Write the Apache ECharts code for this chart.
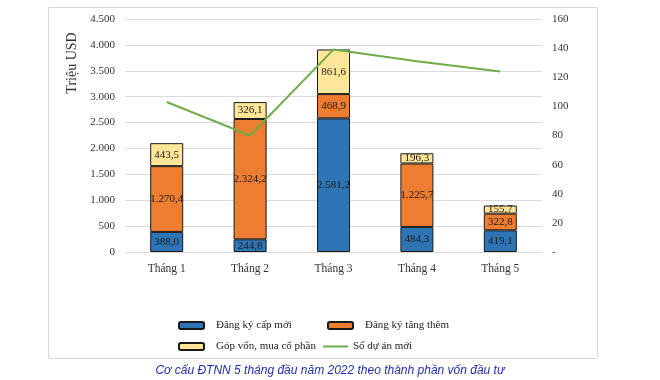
<!DOCTYPE html>
<html><head><meta charset="utf-8">
<script src="https://cdn.jsdelivr.net/npm/echarts@6/dist/echarts.min.js"></script>
<style>html,body{margin:0;padding:0;background:#fff}#c{width:660px;height:380px}</style>
</head><body><div id="c"></div>
<script>
var categories = ['Tháng 1', 'Tháng 2', 'Tháng 3', 'Tháng 4', 'Tháng 5'];
var dangKyCapMoi = [388.0, 244.8, 2581.2, 484.3, 419.1];
var dangKyTangThem = [1270.4, 2324.2, 468.9, 1225.7, 322.8];
var gopVon = [443.5, 326.1, 861.6, 196.3, 155.7];
var soDuAnMoi = [103, 80, 139, 131, 124];
var leftTicks = [0, 500, 1000, 1500, 2000, 2500, 3000, 3500, 4000, 4500];
var rightTicks = [0, 20, 40, 60, 80, 100, 120, 140, 160];
var names = ['Đăng ký cấp mới', 'Đăng ký tăng thêm', 'Góp vốn, mua cổ phần', 'Số dự án mới'];
var caption = 'Cơ cấu ĐTNN 5 tháng đầu năm 2022 theo thành phần vốn đầu tư';

function fmtThousands(n) {
  return String(n).replace(/\B(?=(\d{3})+(?!\d))/g, '.');
}
function fmtVal(v) {
  var s = v.toFixed(1).split('.');
  return fmtThousands(s[0]) + ',' + s[1];
}
var serif = 'Liberation Serif';
var chart = echarts.init(document.getElementById('c'));
function barSeries(name, data, color) {
  return {
    name: name, type: 'bar', stack: 'v', data: data, barWidth: 33,
    itemStyle: { color: color, borderColor: '#1a1a1a', borderWidth: 1 },
    label: { show: true, position: 'inside', fontFamily: serif, fontSize: 11, color: '#1a1a1a',
      formatter: function (p) { return fmtVal(p.value); } },
    emphasis: { disabled: true }
  };
}
function leg(name, left, top, icon, extra) {
  return Object.assign({
    data: [name], left: left, top: top, icon: icon, itemWidth: 25, itemHeight: 7,
    itemGap: 0, textStyle: { fontFamily: serif, fontSize: 11, color: '#222', padding: [0, 0, 0, 7] }
  }, extra || {});
}
chart.setOption({
  animation: false,
  grid: { left: 125, right: 118, top: 19, bottom: 128 },
  legend: [
    leg(names[0], 173, 315, 'roundRect'),
    leg(names[1], 322, 315, 'roundRect'),
    leg(names[2], 173, 336, 'roundRect'),
    leg(names[3], 318, 336, 'rect', { itemHeight: 2, itemWidth: 25,
      textStyle: { fontFamily: serif, fontSize: 11, color: '#222' } })
  ],
  xAxis: {
    type: 'category', data: categories,
    axisLine: { lineStyle: { color: '#d9d9d9' } },
    axisTick: { show: false },
    axisLabel: { fontFamily: serif, fontSize: 11.5, color: '#333', margin: 11 }
  },
  yAxis: [
    { type: 'value', min: leftTicks[0], max: leftTicks[leftTicks.length - 1], interval: 500,
      axisLine: { show: false }, axisTick: { show: false },
      splitLine: { lineStyle: { color: '#dcdcdc' } },
      axisLabel: { fontFamily: serif, fontSize: 11, color: '#333', margin: 10,
        formatter: function (v) { return fmtThousands(v); } } },
    { type: 'value', min: rightTicks[0], max: rightTicks[rightTicks.length - 1], interval: 20,
      axisLine: { show: false }, axisTick: { show: false }, splitLine: { show: false },
      axisLabel: { fontFamily: serif, fontSize: 11, color: '#333', margin: 10,
        formatter: function (v) { return v === 0 ? '-' : String(v); } } }
  ],
  series: [
    barSeries(names[0], dangKyCapMoi, '#2e75b6'),
    barSeries(names[1], dangKyTangThem, '#ed7d31'),
    barSeries(names[2], gopVon, '#ffe699'),
    { name: names[3], type: 'line', yAxisIndex: 1, data: soDuAnMoi, symbol: 'none',
      lineStyle: { color: '#70ad47', width: 2 }, itemStyle: { color: '#70ad47' }, z: 5 }
  ],
  graphic: [
    { type: 'rect', shape: { x: 48.5, y: 7.5, width: 549, height: 351 }, z: -1,
      style: { fill: 'none', stroke: '#d9d9d9', lineWidth: 1 }, silent: true },
    { type: 'text', x: 72, y: 63, rotation: Math.PI / 2,
      style: { text: 'Triệu USD', font: '14px "Liberation Serif"', fill: '#333',
        textAlign: 'center', textVerticalAlign: 'middle' } },
    { type: 'text', x: 330, y: 371,
      style: { text: caption, font: 'italic 12px "Liberation Sans"', fill: '#1f2fb0',
        textAlign: 'center', textVerticalAlign: 'middle' } }
  ]
});
</script></body></html>
